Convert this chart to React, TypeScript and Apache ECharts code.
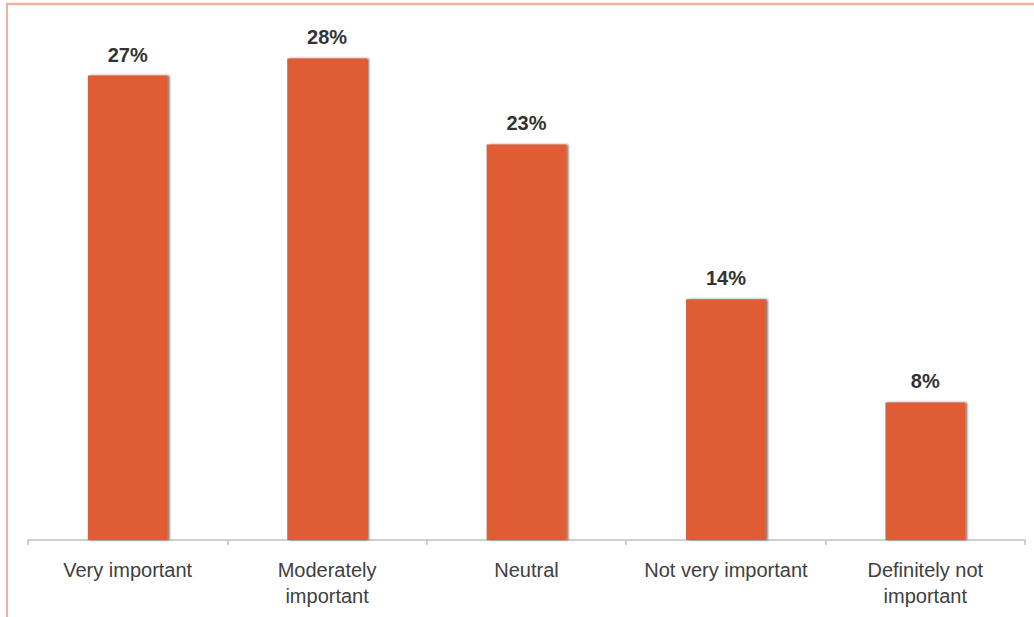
import React, { useEffect, useRef } from "react";
import * as echarts from "echarts";

const categories = [
  "Very important",
  "Moderately\nimportant",
  "Neutral",
  "Not very important",
  "Definitely not\nimportant",
];
const shares = [27, 28, 23, 14, 8];

export default function App() {
  const ref = useRef<HTMLDivElement>(null);

  useEffect(() => {
    if (!ref.current) return;
    const chart = echarts.init(ref.current, null, { renderer: "svg" });
    chart.setOption({
      animation: false,
      backgroundColor: "#ffffff",
      grid: { left: 28, right: 9, top: 24, bottom: 77, containLabel: false },
      graphic: [
        {
          type: "line",
          shape: { x1: 6, y1: 4, x2: 1034, y2: 4 },
          style: { stroke: "#F0B1A0", lineWidth: 2.5 },
          silent: true,
        },
        {
          type: "line",
          shape: { x1: 7, y1: 3, x2: 7, y2: 617 },
          style: { stroke: "#F0B1A0", lineWidth: 2 },
          silent: true,
        },
      ],
      xAxis: {
        type: "category",
        data: categories,
        axisLine: { lineStyle: { color: "#BFBFBF", width: 1.5 } },
        axisTick: { show: true, length: 5, lineStyle: { color: "#BFBFBF", width: 1.5 } },
        axisLabel: {
          color: "#404040",
          fontFamily: "Liberation Sans, Arial, sans-serif",
          fontSize: 20,
          lineHeight: 26,
          margin: 17,
          interval: 0,
        },
      },
      yAxis: {
        type: "value",
        min: 0,
        max: 30,
        show: false,
        splitLine: { show: false },
      },
      series: [
        {
          type: "bar",
          data: shares,
          barWidth: "40%",
          itemStyle: {
            color: "#E05B34",
            shadowColor: "rgba(0,0,0,0.55)",
            shadowBlur: 2,
            shadowOffsetX: 2,
            shadowOffsetY: 0,
          },
          label: {
            show: true,
            position: "top",
            distance: 11,
            formatter: "{c}%",
            color: "#333333",
            fontFamily: "Liberation Sans, Arial, sans-serif",
            fontWeight: "bold",
            fontSize: 20,
          },
        },
      ],
    });
    return () => chart.dispose();
  }, []);

  return (
    <div
      ref={ref}
      style={{ position: "fixed", left: 0, top: 0, width: 1034, height: 617 }}
    />
  );
}
